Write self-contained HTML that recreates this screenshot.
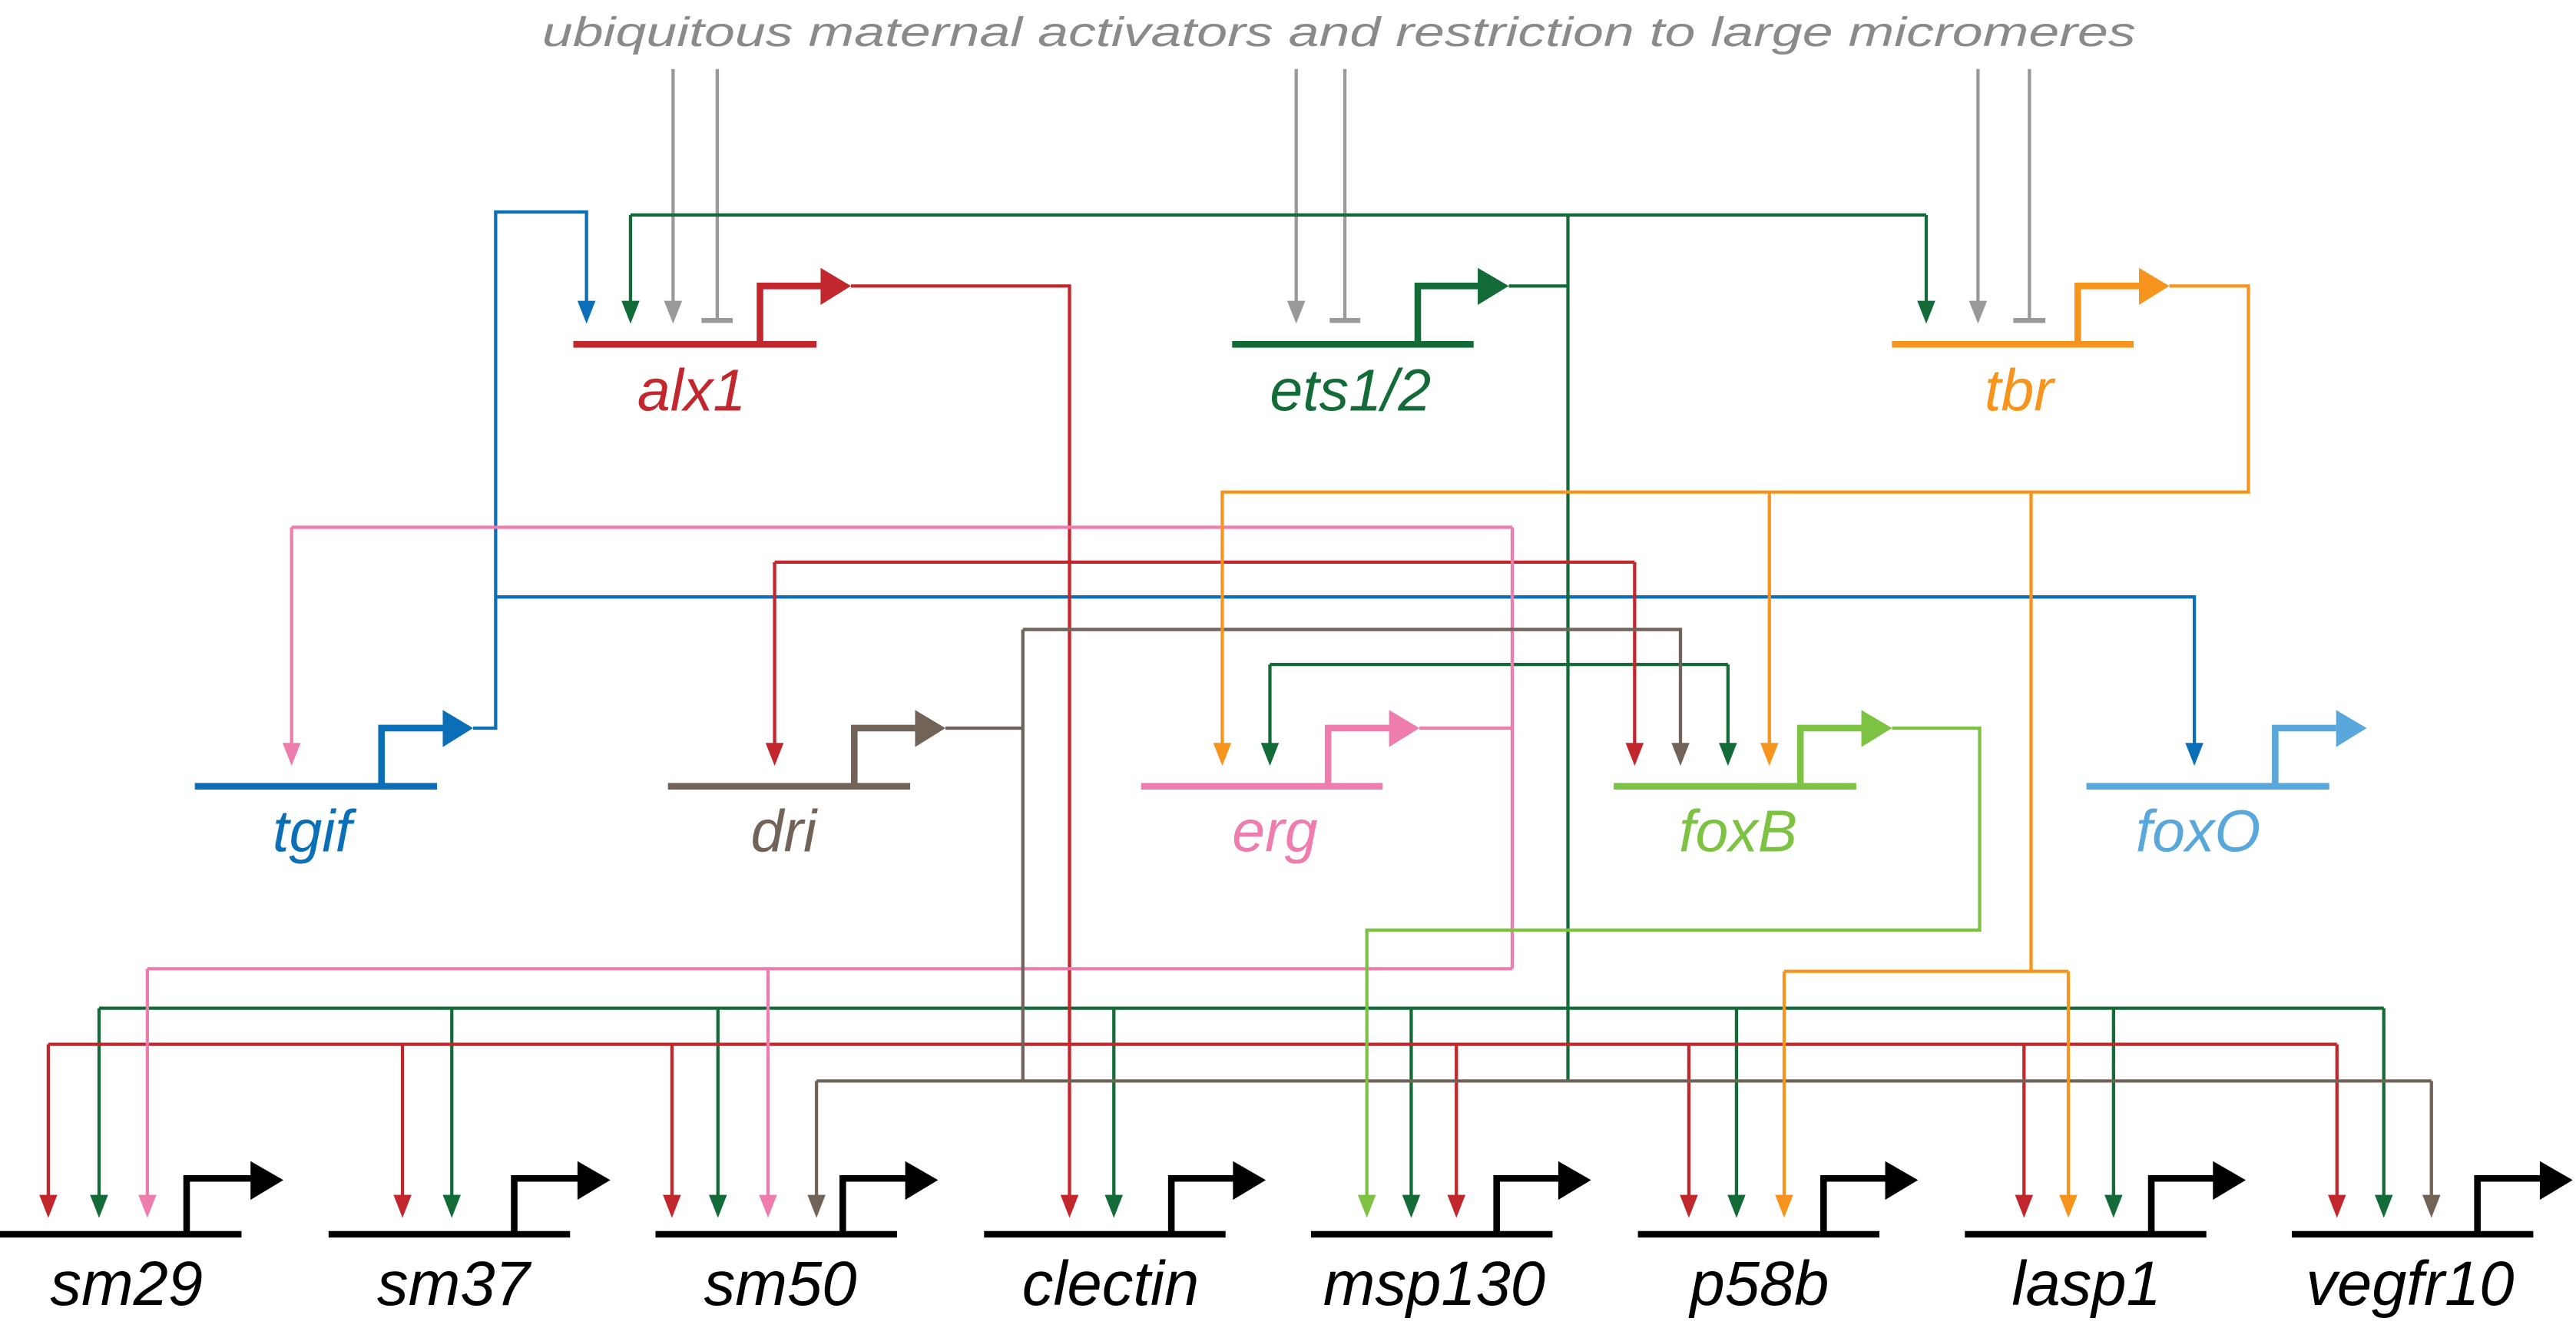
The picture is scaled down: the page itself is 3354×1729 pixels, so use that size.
<!DOCTYPE html>
<html><head><meta charset="utf-8"><style>
html,body{margin:0;padding:0;background:#fff;}
svg{display:block;}
text{font-family:"Liberation Sans",sans-serif;font-style:italic;}
</style></head><body>
<svg width="3354" height="1729" viewBox="0 0 1568 808" preserveAspectRatio="none" xmlns="http://www.w3.org/2000/svg">
<defs><path id="ah" d="M-5.5,-14 L5.5,-14 L0,0Z"/></defs>

<text x="815" y="28" text-anchor="middle" font-size="25" fill="#8a8a8a" textLength="970" lengthAdjust="spacingAndGlyphs">ubiquitous maternal activators and restriction to large micromeres</text>

<g stroke="#999" stroke-width="2" fill="none">
<path d="M409.7,42V186M436.6,42V195M789,42V186M818.6,42V195M1204,42V186M1235.3,42V195"/>
</g>
<g stroke="#999" stroke-width="3"><path d="M427,195H446M809.4,195H828M1225.5,195H1245"/></g>
<g fill="#999"><use href="#ah" x="409.7" y="197"/><use href="#ah" x="789" y="197"/><use href="#ah" x="1204" y="197"/></g>

<g fill="none" stroke-width="2">
<path stroke="#0a6fb7" d="M288,443H301.7V129H357V184M301.7,363.2H1335.7V454"/>
<path stroke="#136b38" d="M918.4,174H954.4M954.4,130.8V657.7M383.8,130.8H1172.5M383.8,130.8V184M1172.5,130.8V184M773,404.3H1051.8M773,404.3V454M1051.8,404.3V454M60.3,613.4H1451M60.3,613.4V728M275,613.4V728M437,613.4V728M678,613.4V728M859,613.4V728M1057,613.4V728M1286.5,613.4V728M1451,613.4V728"/>
<path stroke="#c1272d" d="M518,174H651V728M471.5,342H995M471.5,342V454M995,342V454M29.4,635.4H1422.5M29.4,635.4V728M245,635.4V728M409,635.4V728M886.5,635.4V728M1028,635.4V728M1232,635.4V728M1422.5,635.4V728"/>
<path stroke="#ee7dae" d="M864,443H920.5M920.5,320.8V589.4M177.5,320.8H920.5M177.5,320.8V454M89.7,589.4H920.5M89.7,589.4V728M467.5,589.4V728"/>
<path stroke="#726359" d="M575.5,443H622.6M622.6,383V657.7M622.6,383H1022.9V454M497,657.7H1480M497,657.7V728M1480,657.7V728"/>
<path stroke="#f7941d" d="M1320.5,174H1368.6V299.4H744V454M1077,299.4V454M1236.3,299.4V591M1086,591H1259M1086,591V728M1259,591V728"/>
<path stroke="#7dc242" d="M1151.7,443H1205V565.9H832V728"/>
</g>

<g fill="#0a6fb7"><use href="#ah" x="357" y="197"/><use href="#ah" x="1335.7" y="466"/></g>
<g fill="#136b38"><use href="#ah" x="383.8" y="197"/><use href="#ah" x="1172.5" y="197"/><use href="#ah" x="773" y="466"/><use href="#ah" x="1051.8" y="466"/>
<use href="#ah" x="60.3" y="741"/><use href="#ah" x="275" y="741"/><use href="#ah" x="437" y="741"/><use href="#ah" x="678" y="741"/><use href="#ah" x="859" y="741"/><use href="#ah" x="1057" y="741"/><use href="#ah" x="1286.5" y="741"/><use href="#ah" x="1451" y="741"/></g>
<g fill="#c1272d"><use href="#ah" x="471.5" y="466"/><use href="#ah" x="995" y="466"/>
<use href="#ah" x="29.4" y="741"/><use href="#ah" x="245" y="741"/><use href="#ah" x="409" y="741"/><use href="#ah" x="651" y="741"/><use href="#ah" x="886.5" y="741"/><use href="#ah" x="1028" y="741"/><use href="#ah" x="1232" y="741"/><use href="#ah" x="1422.5" y="741"/></g>
<g fill="#ee7dae"><use href="#ah" x="177.5" y="466"/><use href="#ah" x="89.7" y="741"/><use href="#ah" x="467.5" y="741"/></g>
<g fill="#726359"><use href="#ah" x="1022.9" y="466"/><use href="#ah" x="497" y="741"/><use href="#ah" x="1480" y="741"/></g>
<g fill="#f7941d"><use href="#ah" x="744" y="466"/><use href="#ah" x="1077" y="466"/><use href="#ah" x="1086" y="741"/><use href="#ah" x="1259" y="741"/></g>
<g fill="#7dc242"><use href="#ah" x="832" y="741"/></g>

<g fill="none" stroke-width="4">
<path stroke="#c1272d" d="M349,209.5H497M462.6,209.5V174H500"/>
<path stroke="#136b38" d="M750,209.5H897M863,209.5V174H900"/>
<path stroke="#f7941d" d="M1151.6,209.5H1298.7M1264.7,209.5V174H1302"/>
<path stroke="#0a6fb7" d="M118.6,478.4H266M232.2,478.4V443H270"/>
<path stroke="#726359" d="M406.6,478.4H554M520,478.4V443H557"/>
<path stroke="#ee7dae" d="M694.6,478.4H841.6M808.4,478.4V443H846"/>
<path stroke="#7dc242" d="M982.3,478.4H1129.9M1095.9,478.4V443H1133"/>
<path stroke="#5aa7dc" d="M1270,478.4H1417.8M1384.9,478.4V443H1422"/>
</g>
<polygon fill="#c1272d" points="499.5,163 518,174 499.5,185.5"/>
<polygon fill="#136b38" points="899.5,163 918.4,174 899.5,185.5"/>
<polygon fill="#f7941d" points="1302,163 1320.5,174 1302,185.5"/>
<polygon fill="#0a6fb7" points="269.5,432 288,443 269.5,454.5"/>
<polygon fill="#726359" points="557,432 575.5,443 557,454.5"/>
<polygon fill="#ee7dae" points="845.5,432 864,443 845.5,454.5"/>
<polygon fill="#7dc242" points="1133,432 1151.7,443 1133,454.5"/>
<polygon fill="#5aa7dc" points="1422,432 1440.6,443 1422,454.5"/>

<g font-size="36">
<text x="421" y="249.7" text-anchor="middle" fill="#c1272d">alx1</text>
<text x="822" y="249.7" text-anchor="middle" fill="#136b38">ets1/2</text>
<text x="1229" y="249.7" text-anchor="middle" fill="#f7941d">tbr</text>
<text x="190" y="518" text-anchor="middle" fill="#0a6fb7">tgif</text>
<text x="477" y="518" text-anchor="middle" fill="#726359">dri</text>
<text x="776" y="518" text-anchor="middle" fill="#ee7dae">erg</text>
<text x="1058" y="518" text-anchor="middle" fill="#7dc242">foxB</text>
<text x="1338" y="518" text-anchor="middle" fill="#5aa7dc">foxO</text>
</g>

<g fill="none" stroke="#000" stroke-width="4">
<path d="M0,751H147M113.6,751V717H155"/>
<path d="M200,751H347M313,751V717H354"/>
<path d="M399,751H546M513,751V717H553"/>
<path d="M599,751H746M713,751V717H753"/>
<path d="M798,751H945M911,751V717H951"/>
<path d="M997,751H1144M1110,751V717H1150"/>
<path d="M1196,751H1343M1309.5,751V717H1349"/>
<path d="M1395,751H1542M1508,751V717H1548"/>
</g>
<g fill="#000">
<polygon points="152.5,706.5 172.5,718 152.5,730"/>
<polygon points="351.5,706.5 371.5,718 351.5,730"/>
<polygon points="551,706.5 571,718 551,730"/>
<polygon points="750.5,706.5 770.5,718 750.5,730"/>
<polygon points="948.5,706.5 968.5,718 948.5,730"/>
<polygon points="1147.5,706.5 1167.5,718 1147.5,730"/>
<polygon points="1347,706.5 1367,718 1347,730"/>
<polygon points="1546,706.5 1566,718 1546,730"/>
</g>
<g font-size="38" fill="#000" text-anchor="middle">
<text x="77" y="794">sm29</text>
<text x="276" y="794">sm37</text>
<text x="475" y="794">sm50</text>
<text x="676" y="794">clectin</text>
<text x="873" y="794">msp130</text>
<text x="1071" y="794">p58b</text>
<text x="1270" y="794">lasp1</text>
<text x="1467" y="794">vegfr10</text>
</g>
</svg>
</body></html>
